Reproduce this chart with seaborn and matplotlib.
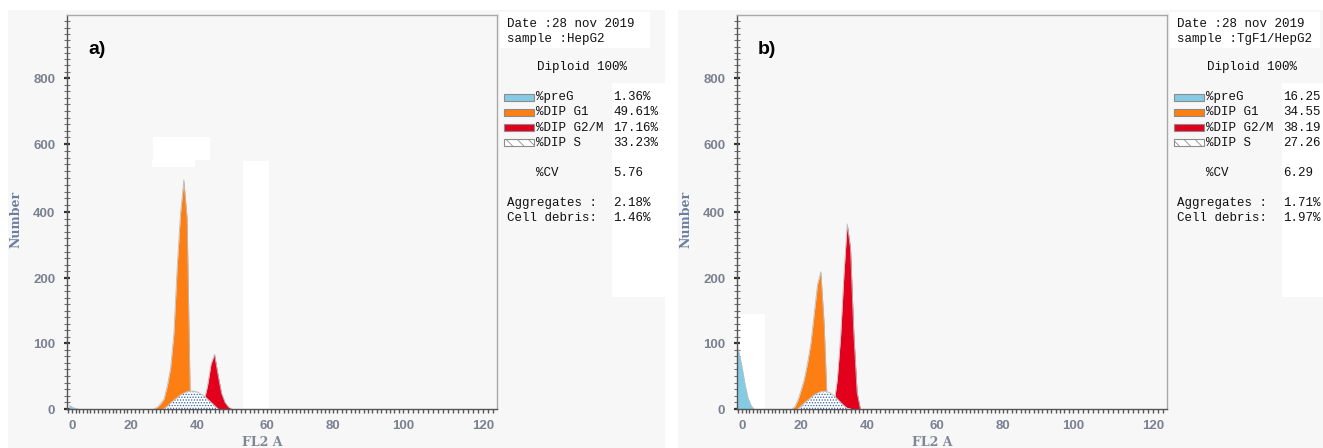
import numpy as np
import pandas as pd
import matplotlib
matplotlib.use("Agg")
import matplotlib.pyplot as plt
from matplotlib.patches import Rectangle
import seaborn as sns

# Estilo
sns.set_theme(style="white")
plt.rcParams['font.family'] = ['Liberation Sans', 'DejaVu Sans']
plt.rcParams['hatch.linewidth'] = 0.6

W, H = 1323, 448

# ---- Dados lidos do histograma (canal FL2-A, passo 1) ----
# a) HepG2
ch_preg_a = np.arange(-1, 3)
preg_a = [6, 3, 1, 0]
ch_g1_a = np.arange(27, 39)
g1_a = [0, 3, 8, 15, 35, 62, 115, 235, 395, 494, 380, 0]
ch_g2_a = np.arange(41, 51)
g2_a = [0, 12, 35, 68, 83, 52, 24, 10, 3, 0]
ch_s_a = np.arange(30, 47)
s_a = [0, 4, 9, 13, 17, 21, 24, 26, 27, 27, 26, 23, 20, 15, 10, 5, 0]

# b) TgF1/HepG2
ch_preg_b = np.arange(-2, 5)
preg_b = [100, 85, 64, 38, 17, 6, 0]
ch_g1_b = np.arange(17, 29)
g1_b = [0, 4, 14, 28, 45, 70, 100, 145, 190, 219, 130, 0]
ch_g2_b = np.arange(29, 39)
g2_b = [0, 8, 45, 110, 210, 364, 290, 115, 25, 0]
ch_s_b = np.arange(19, 36)
s_b = [0, 4, 9, 13, 17, 21, 24, 26, 27, 26, 24, 20, 15, 10, 5, 1, 0]

# Tabela de resultados
fases = ['%preG', '%DIP G1', '%DIP G2/M', '%DIP S']
pct_a = ['1.36%', '49.61%', '17.16%', '33.23%']
pct_b = ['16.25', '34.55', '38.19', '27.26']
amostras = ['HepG2', 'TgF1/HepG2']
cv = ['5.76', '6.29']
agregados = ['2.18%', '1.71%']
debris = ['1.46%', '1.97%']
rotulos = ['a)', 'b)']

# Eixos (valores dos rótulos e sua posição em pixels na imagem)
x_ticks = [0, 20, 40, 60, 80, 100, 120]
y_ticks = [0, 100, 200, 400, 600, 800]
x_brk = [-20, 0, 20, 40, 60, 80, 100, 120, 140]
x_pos = [13, 72, 131, 197, 267, 333, 403, 483, 563]
y_brk = [-100, 0, 100, 200, 400, 600, 800, 1000, 1200]
y_pos = [-66, 0, 66, 131, 197, 265, 331, 397, 463]

c_preg = '#86cbe4'
c_g1 = '#fd7f14'
c_g2 = '#e2001c'
c_s = '#2f5aa6'
c_bg = '#f7f7f7'
c_tick = '#7b8191'


def fx(px):
    return px / W


def fy(py):
    return 1 - py / H


fig = plt.figure(figsize=(W / 100, H / 100), dpi=100, facecolor='white')

paineis = [
    dict(off=0, preg=(ch_preg_a, preg_a), g1=(ch_g1_a, g1_a), g2=(ch_g2_a, g2_a),
         s=(ch_s_a, s_a), pct=pct_a,
         masks=[(26.7, 43.7, 553, 622), (26.3, 39.5, 533, 553), (53.1, 60.6, 0, 550)]),
    dict(off=670, preg=(ch_preg_b, preg_b), g1=(ch_g1_b, g1_b), g2=(ch_g2_b, g2_b),
         s=(ch_s_b, s_b), pct=pct_b,
         masks=[(-1.7, 7.8, 0, 145)]),
]

for i, p in enumerate(paineis):
    off = p['off']
    # fundo cinza do painel
    x0 = 8 + off
    x1 = 665 if off == 0 else W
    fig.add_artist(Rectangle((fx(x0), 0), fx(x1 - x0), 1 - 10 / H,
                             transform=fig.transFigure, facecolor=c_bg,
                             edgecolor='none', zorder=-5))
    # caixas brancas da legenda
    fig.add_artist(Rectangle((fx(500 + off), fy(48)), fx(150), 36 / H,
                             transform=fig.transFigure, facecolor='white',
                             edgecolor='none', zorder=-4))
    fig.add_artist(Rectangle((fx(612 + off), fy(297)), fx(min(53, W - 612 - off)), 214 / H,
                             transform=fig.transFigure, facecolor='white',
                             edgecolor='none', zorder=-4))

    ax = fig.add_axes([fx(67 + off), fy(409), fx(430), (409 - 15) / H])
    ax.set_facecolor(c_bg)
    ax.set_xscale('function', functions=(lambda v: np.interp(v, x_brk, x_pos),
                                         lambda v: np.interp(v, x_pos, x_brk)))
    ax.set_yscale('function', functions=(lambda v: np.interp(v, y_brk, y_pos),
                                         lambda v: np.interp(v, y_pos, y_brk)))

    for (a, b, lo, hi) in p['masks']:
        ax.fill_between([a, b], lo, hi, color='white', lw=0, zorder=0.5)

    # picos preenchidos + contorno
    for key, col in [('preg', c_preg), ('g1', c_g1), ('g2', c_g2)]:
        ch, n = p[key]
        ax.fill_between(ch, 0, n, color=col, lw=0, zorder=2)
        sns.lineplot(x=ch, y=n, color='#bdbdbd', linewidth=0.6, ax=ax, zorder=2.1)
    ch, n = p['s']
    ax.fill_between(ch, 0, n, facecolor='white', edgecolor=c_s, hatch='......',
                    lw=0, zorder=3)
    sns.lineplot(x=ch, y=n, color='#c4c4c4', linewidth=0.8, ax=ax, zorder=3.1)

    ax.set_xlim(-1.7, 123.5)
    ax.set_ylim(0, 991)
    ax.set_xticks(x_ticks)
    ax.set_yticks(y_ticks)
    xm = np.concatenate([np.linspace(x_ticks[k], x_ticks[k + 1], 17)[1:-1]
                         for k in range(len(x_ticks) - 1)] + [[121.25, 122.5]])
    ym_lim = y_ticks + [991]
    ym = np.concatenate([np.linspace(ym_lim[k], ym_lim[k + 1], 11)[1:-1]
                         for k in range(len(ym_lim) - 1)])
    ax.set_xticks(np.concatenate([xm, [-1.25]]), minor=True)
    ax.set_yticks(ym, minor=True)
    ax.tick_params(axis='y', which='major', direction='inout', length=5, width=1.6,
                   color='#333333', pad=6, labelsize=9.5, labelcolor=c_tick, left=True)
    ax.tick_params(axis='y', which='minor', direction='inout', length=4, width=0.8,
                   color='#707070', left=True)
    ax.tick_params(axis='x', which='both', direction='out', length=3, width=1,
                   color='#555555', pad=5, labelsize=9.5, labelcolor=c_tick, bottom=True)
    for lab in ax.get_xticklabels() + ax.get_yticklabels():
        lab.set_fontweight('bold')
    for s in ['top', 'right']:
        ax.spines[s].set_color('#a8a8a8')
        ax.spines[s].set_linewidth(1)
    for s in ['left', 'bottom']:
        ax.spines[s].set_color('#555555')
        ax.spines[s].set_linewidth(1)
    ax.grid(False)

    ax.set_xlabel('FL2 A', family='DejaVu Serif', fontweight='bold', fontsize=9,
                  color='#7f8797')
    ax.xaxis.set_label_coords(0.455, -0.068)
    ax.set_ylabel('Number', family='DejaVu Serif', fontweight='bold', fontsize=9,
                  color='#6b7f9e')
    ax.yaxis.set_label_coords(-0.104, 0.48)

    fig.text(fx(88 + off), fy(50), rotulos[i], fontsize=14, fontweight='bold',
             color='black', va='center', ha='left')

    # Legenda / resultados
    mono = dict(family='Liberation Mono', fontsize=9, color='#111111', va='center')
    fig.text(fx(507 + off), fy(24), 'Date :28 nov 2019', **mono)
    fig.text(fx(507 + off), fy(39), 'sample :' + amostras[i], **mono)
    fig.text(fx(537 + off), fy(67), 'Diploid 100%', **mono)
    for k, (nome, cor) in enumerate(zip(fases, [c_preg, c_g1, c_g2, 'white'])):
        yy = 97 + k * 15.3
        fig.add_artist(Rectangle((fx(504 + off), fy(yy + 3.5)), fx(30), 7 / H,
                                 transform=fig.transFigure, facecolor=cor,
                                 edgecolor='#8c8c8c', lw=0.8,
                                 hatch='\\\\\\' if cor == 'white' else None))
        fig.text(fx(536 + off), fy(yy), nome, **mono)
        fig.text(fx(613 + off), fy(yy), p['pct'][k], **mono)
    fig.text(fx(536 + off), fy(173), '%CV', **mono)
    fig.text(fx(613 + off), fy(173), cv[i], **mono)
    fig.text(fx(507 + off), fy(203), 'Aggregates :', **mono)
    fig.text(fx(613 + off), fy(203), agregados[i], **mono)
    fig.text(fx(507 + off), fy(218), 'Cell debris:', **mono)
    fig.text(fx(613 + off), fy(218), debris[i], **mono)

fig.savefig('out.png', dpi=100)
